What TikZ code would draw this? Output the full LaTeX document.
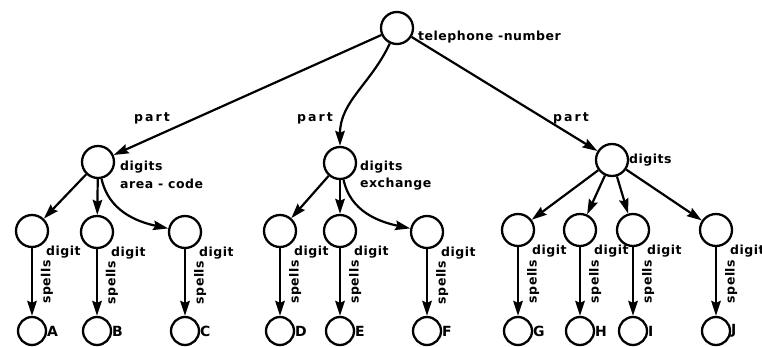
\documentclass[tikz,border=0pt]{standalone}
\usepackage{fontspec}
\newfontfamily\lblfont{DejaVu Sans}[LetterSpace=4]
\usetikzlibrary{arrows.meta,calc}
\begin{document}
\begin{tikzpicture}[x=1pt,y=1pt,
  cnode/.style={circle,draw,line width=2.3pt,minimum size=32pt,inner sep=0pt},
  lnode/.style={circle,draw,line width=2.3pt,minimum size=28pt,inner sep=0pt},
  arr/.style={line width=2.2pt,-{Stealth[length=15pt,width=9.5pt,inset=2pt]}},
  lbl/.style={font=\lblfont\bfseries\fontsize{12.5}{14}\selectfont,inner sep=0pt,anchor=west},
  widelbl/.style={font=\lblfont\bfseries\fontsize{12.5}{14}\selectfont\addfontfeature{LetterSpace=16}},
  letterlbl/.style={font=\lblfont\bfseries\fontsize{14}{16}\selectfont},
  spl/.style={lbl,midway,rotate=90,anchor=north,outer sep=9pt},
]
\useasboundingbox (0,0) rectangle (762,-347);

% root and the three parts
\node[cnode] (root) at (397,-28) {};
\node[cnode] (ac) at (98,-162) {};
\node[cnode] (ex) at (340,-163) {};
\node[cnode] (dg) at (612,-160) {};

% digit nodes
\node[cnode] (a1) at (32,-231) {};
\node[cnode] (a2) at (97,-232) {};
\node[cnode] (a3) at (185,-232) {};
\node[cnode] (e1) at (280,-231) {};
\node[cnode] (e2) at (340,-231) {};
\node[cnode] (e3) at (427,-232) {};
\node[cnode] (g1) at (518,-230) {};
\node[cnode] (g2) at (580,-230) {};
\node[cnode] (g3) at (633,-230) {};
\node[cnode] (g4) at (716,-230) {};

% spelled letters
\node[lnode] (A) at (32,-331) {};
\node[lnode] (B) at (97,-331) {};
\node[lnode] (C) at (185,-331) {};
\node[lnode] (D) at (280,-331) {};
\node[lnode] (E) at (340,-331) {};
\node[lnode] (F) at (427,-331) {};
\node[lnode] (G) at (518,-331) {};
\node[lnode] (H) at (580,-331) {};
\node[lnode] (I) at (633,-331) {};
\node[lnode] (J) at (716,-331) {};

% part arcs
\draw[arr] (root) -- (ac);
\draw[arr] (root) to[out=-115,in=90] (ex);
\draw[arr] (root) -- (dg);

% digits arcs
\draw[arr] (ac) -- (a1);
\draw[arr] (ac) -- (a2);
\draw[arr] (ac) to[out=-78,in=168] (a3);
\draw[arr] (ex) -- (e1);
\draw[arr] (ex) -- (e2);
\draw[arr] (ex) to[out=-78,in=168] (e3);
\draw[arr] (dg) -- (g1);
\draw[arr] (dg) -- (g2);
\draw[arr] (dg) -- (g3);
\draw[arr] (dg) -- (g4);

% spells arcs
\foreach \d/\l in {a1/A,a2/B,a3/C,e1/D,e2/E,e3/F,g1/G,g2/H,g3/I,g4/J}
  \draw[arr] (\d) -- node[spl] {spells} (\l);

% labels
\node[lbl] (troot) at (418,-37) {telephone -number};
\node[lbl,widelbl,anchor=center] (p1) at (152,-118) {part};
\node[lbl,widelbl,anchor=center] (p2) at (315,-118) {part};
\node[lbl,widelbl,anchor=center] (p3) at (571,-118) {part};
\node[lbl] (tac1) at (120,-167) {digits};
\node[lbl] (tac2) at (120,-184) {area - code};
\node[lbl] (tex1) at (360,-167) {digits};
\node[lbl] (tex2) at (360,-184) {exchange};
\node[lbl] (tdg) at (629,-160) {digits};

\foreach \d in {a1,a2,a3,e1,e2,e3,g1,g2,g3,g4}
  \node[lbl] at ($(\d)+(14,-21)$) {digit};

\foreach \l in {A,B,C,D,E,F,G,H,I,J}
  \node[lbl,letterlbl] at ($(\l)+(15,0)$) {\l};
\end{tikzpicture}
\end{document}
